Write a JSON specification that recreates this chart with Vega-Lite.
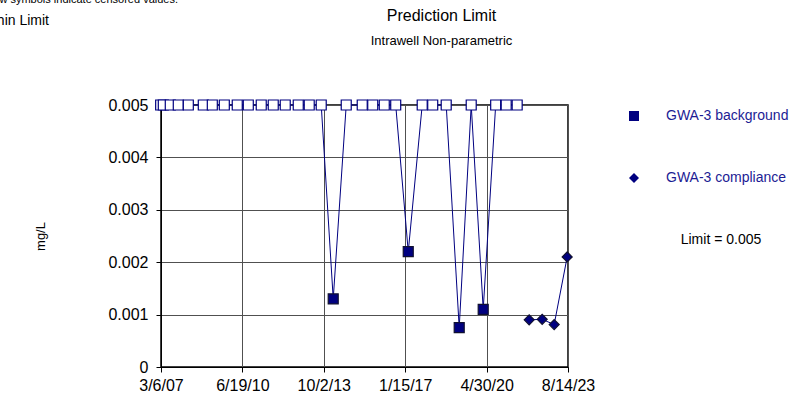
{
  "$schema": "https://vega.github.io/schema/vega-lite/v6.json",
  "autosize": {"type": "none"},
  "padding": {"left": 161, "top": 105, "right": 242, "bottom": 33},
  "width": 407,
  "height": 262,
  "background": "white",
  "title": {
    "text": "Prediction Limit",
    "subtitle": "Intrawell Non-parametric",
    "anchor": "middle",
    "dx": 77,
    "offset": -54,
    "font": "Liberation Sans",
    "fontSize": 16,
    "fontWeight": "normal",
    "color": "black",
    "subtitleFont": "Liberation Sans",
    "subtitleFontSize": 13,
    "subtitleColor": "black",
    "subtitlePadding": 11
  },
  "config": {
    "view": {"stroke": "black", "strokeWidth": 1.5},
    "axis": {
      "labelFont": "Liberation Sans",
      "labelFontSize": 16,
      "labelColor": "black",
      "domainColor": "black",
      "tickColor": "black",
      "tickSize": 5,
      "gridColor": "#505050",
      "gridWidth": 1,
      "gridOpacity": 1,
      "titleFont": "Liberation Sans",
      "titleFontWeight": "normal",
      "titleColor": "black"
    }
  },
  "data": {
    "values": [
      {"date": "2007-03-01T00:00:00", "value": 0.005, "series": "GWA-3 background", "censored": true},
      {"date": "2007-04-09T00:00:00", "value": 0.005, "series": "GWA-3 background", "censored": true},
      {"date": "2007-07-21T00:00:00", "value": 0.005, "series": "GWA-3 background", "censored": true},
      {"date": "2007-11-16T00:00:00", "value": 0.005, "series": "GWA-3 background", "censored": true},
      {"date": "2008-04-12T00:00:00", "value": 0.005, "series": "GWA-3 background", "censored": true},
      {"date": "2008-11-19T00:00:00", "value": 0.005, "series": "GWA-3 background", "censored": true},
      {"date": "2009-04-01T00:00:00", "value": 0.005, "series": "GWA-3 background", "censored": true},
      {"date": "2009-09-25T00:00:00", "value": 0.005, "series": "GWA-3 background", "censored": true},
      {"date": "2010-04-04T00:00:00", "value": 0.005, "series": "GWA-3 background", "censored": true},
      {"date": "2010-09-14T00:00:00", "value": 0.005, "series": "GWA-3 background", "censored": true},
      {"date": "2011-03-24T00:00:00", "value": 0.005, "series": "GWA-3 background", "censored": true},
      {"date": "2011-09-17T00:00:00", "value": 0.005, "series": "GWA-3 background", "censored": true},
      {"date": "2012-03-12T00:00:00", "value": 0.005, "series": "GWA-3 background", "censored": true},
      {"date": "2012-09-20T00:00:00", "value": 0.005, "series": "GWA-3 background", "censored": true},
      {"date": "2013-03-01T00:00:00", "value": 0.005, "series": "GWA-3 background", "censored": true},
      {"date": "2013-08-25T00:00:00", "value": 0.005, "series": "GWA-3 background", "censored": true},
      {"date": "2014-02-18T00:00:00", "value": 0.0013, "series": "GWA-3 background", "censored": false},
      {"date": "2014-08-29T00:00:00", "value": 0.005, "series": "GWA-3 background", "censored": true},
      {"date": "2015-04-22T00:00:00", "value": 0.005, "series": "GWA-3 background", "censored": true},
      {"date": "2015-09-24T00:00:00", "value": 0.005, "series": "GWA-3 background", "censored": true},
      {"date": "2016-03-12T00:00:00", "value": 0.005, "series": "GWA-3 background", "censored": true},
      {"date": "2016-08-28T00:00:00", "value": 0.005, "series": "GWA-3 background", "censored": true},
      {"date": "2017-03-01T00:00:00", "value": 0.0022, "series": "GWA-3 background", "censored": false},
      {"date": "2017-09-23T00:00:00", "value": 0.005, "series": "GWA-3 background", "censored": true},
      {"date": "2018-02-25T00:00:00", "value": 0.005, "series": "GWA-3 background", "censored": true},
      {"date": "2018-09-12T00:00:00", "value": 0.005, "series": "GWA-3 background", "censored": true},
      {"date": "2019-03-23T00:00:00", "value": 0.00075, "series": "GWA-3 background", "censored": false},
      {"date": "2019-09-16T00:00:00", "value": 0.005, "series": "GWA-3 background", "censored": true},
      {"date": "2020-03-11T00:00:00", "value": 0.0011, "series": "GWA-3 background", "censored": false},
      {"date": "2020-09-11T00:00:00", "value": 0.005, "series": "GWA-3 background", "censored": true},
      {"date": "2021-02-13T00:00:00", "value": 0.005, "series": "GWA-3 background", "censored": true},
      {"date": "2021-07-25T00:00:00", "value": 0.005, "series": "GWA-3 background", "censored": true},
      {"date": "2022-01-18T00:00:00", "value": 0.0009, "series": "GWA-3 compliance", "censored": false},
      {"date": "2022-07-29T00:00:00", "value": 0.00091, "series": "GWA-3 compliance", "censored": false},
      {"date": "2023-01-22T00:00:00", "value": 0.00081, "series": "GWA-3 compliance", "censored": false},
      {"date": "2023-08-02T00:00:00", "value": 0.0021, "series": "GWA-3 compliance", "censored": false}
    ]
  },
  "encoding": {
    "x": {
      "field": "date",
      "type": "temporal",
      "scale": {"domain": [{"year": 2007, "month": 3, "date": 6}, {"year": 2023, "month": 8, "date": 14}]},
      "axis": {
        "title": null,
        "format": "%-m/%-d/%y",
        "values": [
          {"year": 2007, "month": 3, "date": 6},
          {"year": 2010, "month": 6, "date": 19},
          {"year": 2013, "month": 10, "date": 2},
          {"year": 2017, "month": 1, "date": 15},
          {"year": 2020, "month": 4, "date": 30},
          {"year": 2023, "month": 8, "date": 14}
        ],
        "grid": true,
        "labelPadding": 5,
        "labelFlush": false
      }
    },
    "y": {
      "field": "value",
      "type": "quantitative",
      "scale": {"domain": [0, 0.005], "nice": false},
      "axis": {
        "title": "mg/L",
        "titleFontSize": 13,
        "titlePadding": 60,
        "values": [0, 0.001, 0.002, 0.003, 0.004, 0.005],
        "format": ".3~f",
        "grid": true,
        "labelPadding": 8
      }
    }
  },
  "layer": [
    {
      "mark": {"type": "line", "color": "#000080", "strokeWidth": 1},
      "encoding": {"detail": {"field": "series"}}
    },
    {
      "mark": {"type": "point", "filled": true, "size": 100, "opacity": 1, "strokeWidth": 1.2},
      "encoding": {
        "shape": {
          "field": "series",
          "type": "nominal",
          "scale": {"domain": ["GWA-3 background", "GWA-3 compliance"], "range": ["square", "diamond"]},
          "legend": {
            "orient": "none",
            "legendX": 466,
            "legendY": 4,
            "title": null,
            "labelFont": "Liberation Sans",
            "labelFontSize": 14,
            "labelColor": "#1c1c94",
            "labelOffset": 25,
            "rowPadding": 48,
            "symbolSize": 100,
            "symbolFillColor": "#000080",
            "symbolStrokeColor": "black",
            "symbolStrokeWidth": 1
          }
        },
        "fill": {"condition": {"test": "datum.censored", "value": "white"}, "value": "#000080"},
        "stroke": {"condition": {"test": "datum.censored", "value": "#000080"}, "value": "#101030"}
      }
    },
    {
      "data": {"values": [{"note": "Limit = 0.005"}]},
      "mark": {"type": "text", "align": "center", "baseline": "middle", "font": "Liberation Sans", "fontSize": 14, "color": "black"},
      "encoding": {"text": {"field": "note"}, "x": {"value": 560}, "y": {"value": 135}}
    },
    {
      "data": {"values": [{"note": "Hollow symbols indicate censored values."}]},
      "mark": {"type": "text", "align": "right", "baseline": "alphabetic", "font": "Liberation Sans", "fontSize": 11, "color": "black"},
      "encoding": {"text": {"field": "note"}, "x": {"value": 17}, "y": {"value": -102}}
    },
    {
      "data": {"values": [{"note": "Within Limit"}]},
      "mark": {"type": "text", "align": "right", "baseline": "alphabetic", "font": "Liberation Sans", "fontSize": 14, "color": "black"},
      "encoding": {"text": {"field": "note"}, "x": {"value": -112}, "y": {"value": -80}}
    }
  ]
}
